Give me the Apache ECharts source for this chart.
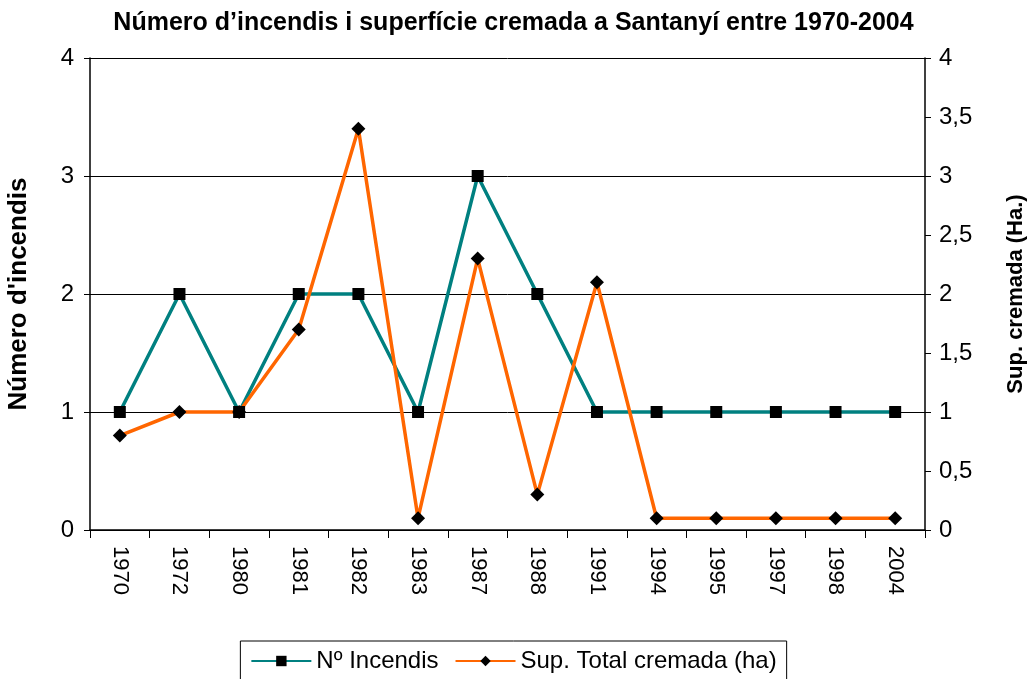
<!DOCTYPE html>
<html>
<head>
<meta charset="utf-8">
<script src="https://cdn.jsdelivr.net/npm/echarts@6/dist/echarts.min.js"></script>
<style>
  html, body { margin: 0; padding: 0; background: #fff; }
  #chart { width: 1027px; height: 679px; }
</style>
</head>
<body>
<div id="chart"></div>
<script>
// anys
const years = ['1970','1972','1980','1981','1982','1983','1987','1988','1991','1994','1995','1997','1998','2004'];
// Nº incendis
const numIncendis = [1, 2, 1, 2, 2, 1, 3, 2, 1, 1, 1, 1, 1, 1];
// superficie cremada (ha)
const supCremada = [0.8, 1, 1, 1.7, 3.4, 0.1, 2.3, 0.3, 2.1, 0.1, 0.1, 0.1, 0.1, 0.1];

const font = 'Liberation Sans, Arial, sans-serif';

let myChart = echarts.init(document.getElementById('chart'));
let option = {
    animation: false,
    title: {
        text: 'Número d\u2019incendis i superfície cremada a Santanyí entre 1970-2004',
        left: 'center',
        top: 6,
        textStyle: { fontFamily: font, fontSize: 25, fontWeight: 'bold', color: '#000' }
    },
    legend: {
        bottom: -4,
        left: 'center',
        borderColor: '#000',
        borderWidth: 1,
        padding: [8, 10, 10, 10],
        itemWidth: 60,
        itemHeight: 13,
        itemGap: 16,
        textStyle: { fontFamily: font, fontSize: 24, color: '#000' },
        data: ['Nº Incendis', 'Sup. Total cremada (ha)']
    },
    grid: { left: 90, right: 102, top: 58, bottom: 149, outerBoundsMode: 'none' },
    xAxis: {
        type: 'category',
        data: years,
        boundaryGap: true,
        axisLine: { lineStyle: { color: '#000', width: 1.5 } },
        axisTick: { show: true, length: 8, lineStyle: { color: '#000' } },
        axisLabel: { rotate: -90, margin: 16, fontFamily: font, fontSize: 22, color: '#000', interval: 0 }
    },
    yAxis: [{
        type: 'value',
        min: 0, max: 4, interval: 1,
        name: 'Número d\'incendis',
        nameLocation: 'middle',
        nameGap: 58,
        nameTextStyle: { fontFamily: font, fontSize: 26, fontWeight: 'bold', color: '#000' },
        axisLine: { show: true, lineStyle: { color: '#000', width: 1.5 } },
        axisTick: { show: true, length: 6, lineStyle: { color: '#000' } },
        axisLabel: { fontFamily: font, fontSize: 24, color: '#000', margin: 16 },
        splitLine: { show: true, lineStyle: { color: '#000', width: 1 } }
    }, {
        type: 'value',
        min: 0, max: 4, interval: 0.5,
        position: 'right',
        name: 'Sup. cremada (Ha.)',
        nameLocation: 'middle',
        nameGap: 80,
        nameTextStyle: { fontFamily: font, fontSize: 22, fontWeight: 'bold', color: '#000' },
        axisLine: { show: true, lineStyle: { color: '#000', width: 1.5 } },
        axisTick: { show: true, length: 6, lineStyle: { color: '#000' } },
        axisLabel: {
            fontFamily: font, fontSize: 24, color: '#000', margin: 14,
            formatter: v => String(v).replace('.', ',')
        },
        splitLine: { show: false }
    }],
    series: [{
        name: 'Nº Incendis',
        type: 'line',
        yAxisIndex: 0,
        data: numIncendis,
        symbol: 'rect',
        symbolSize: 12,
        lineStyle: { color: '#008080', width: 3.5 },
        itemStyle: { color: '#000' }
    }, {
        name: 'Sup. Total cremada (ha)',
        type: 'line',
        yAxisIndex: 1,
        data: supCremada,
        symbol: 'diamond',
        symbolSize: 14,
        lineStyle: { color: '#ff6600', width: 3.5 },
        itemStyle: { color: '#000' }
    }]
};
myChart.setOption(option);
</script>
</body>
</html>
